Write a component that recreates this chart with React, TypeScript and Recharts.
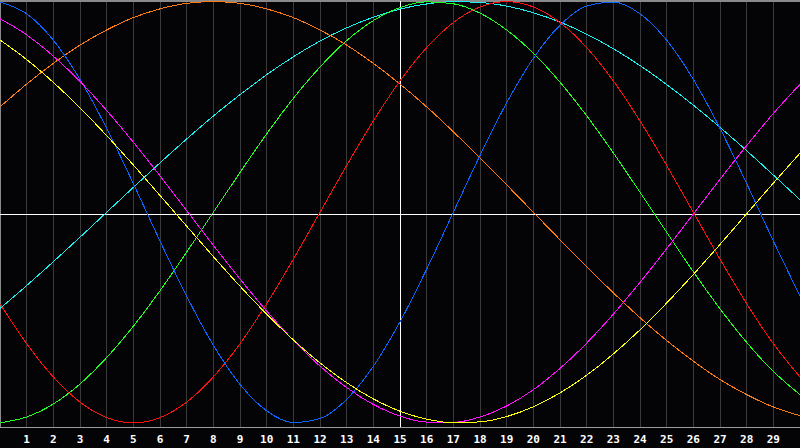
import React from 'react';
import { LineChart, Line, XAxis, YAxis, CartesianGrid, ReferenceLine } from 'recharts';

// Days shown on the chart (0..30), labels only for 1..29
const DAYS = [0, 1, 2, 3, 4, 5, 6, 7, 8, 9, 10, 11, 12, 13, 14, 15, 16, 17, 18, 19, 20, 21, 22, 23, 24, 25, 26, 27, 28, 29, 30];
const DAY_TICKS = DAYS.slice(1, 30);
const TODAY = 15;

// Values in percent
const blue = [99.5, 94.0, 81.6, 63.2, 40.2, 14.3, -12.7, -38.6, -61.6, -80.0, -92.4, -97.9, -96.0, -87.0, -71.5, -50.6, -25.9, 0.8, 27.5, 52.2, 73.1, 88.6, 97.6, 99.5, 94.0, 81.6, 63.2, 40.2, 14.3, -12.7, -38.6];
const red = [-42.1, -60.9, -76.5, -88.3, -95.6, -98.1, -95.6, -88.3, -76.5, -60.9, -42.1, -21.2, 0.8, 22.8, 43.7, 62.5, 78.1, 89.9, 97.2, 99.7, 97.2, 89.9, 78.1, 62.5, 43.7, 22.8, 0.8, -21.2, -42.1, -60.9, -76.5];
const green = [-98.0, -95.3, -89.2, -79.8, -67.4, -52.7, -36.0, -17.9, 0.8, 19.5, 37.6, 54.3, 69.0, 81.4, 90.8, 96.9, 99.6, 98.7, 94.3, 86.4, 75.5, 61.9, 46.1, 28.7, 10.2, -8.6, -27.1, -44.5, -60.3, -73.9, -84.8];
const orange = [50.3, 61.0, 70.7, 79.3, 86.4, 92.2, 96.3, 98.9, 99.7, 98.9, 96.3, 92.2, 86.4, 79.3, 70.7, 61.0, 50.3, 38.6, 26.4, 13.7, 0.8, -12.1, -24.8, -37.0, -48.7, -59.4, -69.1, -77.7, -84.8, -90.6, -94.7];
const cyan = [-44.4, -33.6, -22.4, -10.9, 0.8, 12.5, 24.0, 35.2, 46.0, 56.0, 65.4, 73.8, 81.2, 87.4, 92.4, 96.2, 98.6, 99.7, 99.3, 97.6, 94.5, 90.1, 84.4, 77.6, 69.7, 60.8, 51.1, 40.7, 29.7, 18.3, 6.7];
const magenta = [91.7, 84.1, 74.1, 62.2, 48.6, 33.7, 17.9, 1.6, -14.7, -30.5, -45.6, -59.3, -71.4, -81.5, -89.4, -94.9, -97.7, -97.8, -95.3, -90.1, -82.5, -72.5, -60.6, -47.0, -32.1, -16.3, 0.0, 16.3, 32.1, 47.2, 60.9];
const yellow = [81.7, 72.5, 61.8, 49.8, 36.8, 23.0, 8.7, -5.7, -20.0, -33.9, -47.0, -59.1, -69.9, -79.2, -86.8, -92.6, -96.3, -98.0, -97.6, -95.1, -90.5, -84.0, -75.7, -65.7, -54.4, -41.8, -28.4, -14.3, 0.1, 14.5, 28.6];

const SERIES = [
  { key: 'cyan', values: cyan, color: '#19f0f0' },
  { key: 'orange', values: orange, color: '#ff7a10' },
  { key: 'green', values: green, color: '#22ff22' },
  { key: 'red', values: red, color: '#ff1010' },
  { key: 'blue', values: blue, color: '#0a66ff' },
  { key: 'magenta', values: magenta, color: '#ff10ff' },
  { key: 'yellow', values: yellow, color: '#ffff10' },
];

const data = DAYS.map((day, i) => {
  const row: Record<string, number> = { day };
  SERIES.forEach((s) => {
    row[s.key] = s.values[i];
  });
  return row;
});

// pixel-sharp lines like the original screen capture
const CSS = `
body { margin: 0; background: #040407; }
.recharts-surface line { shape-rendering: crispEdges; }
.recharts-surface path.recharts-curve { shape-rendering: crispEdges; }
`;

export default function App() {
  return (
    <div style={{ width: 800, height: 448, background: '#040407' }}>
      <style>{CSS}</style>
      <LineChart
        width={800}
        height={448}
        data={data}
        margin={{ top: 1, right: 0, left: 0, bottom: 0 }}
      >
        <CartesianGrid horizontal={false} stroke="#3a3a3a" />
        <XAxis
          dataKey="day"
          type="number"
          domain={[0, 30]}
          ticks={DAY_TICKS}
          interval={0}
          height={21}
          tickLine={false}
          axisLine={{ stroke: '#9a9a9a' }}
          tick={{ fill: '#ffffff', fontSize: 11, fontWeight: 'bold', fontFamily: 'DejaVu Sans Mono' }}
        />
        <YAxis hide domain={[-100, 100]} />
        <ReferenceLine x={0} stroke="#8a8a8a" strokeWidth={2} />
        <ReferenceLine y={100} stroke="#8a8a8a" strokeWidth={2} />
        <ReferenceLine y={0} stroke="#ffffff" />
        <ReferenceLine x={TODAY} stroke="#ffffff" />
        {SERIES.map((s) => (
          <Line
            key={s.key}
            type="monotone"
            dataKey={s.key}
            stroke={s.color}
            strokeWidth={1}
            dot={false}
            activeDot={false}
            isAnimationActive={false}
          />
        ))}
      </LineChart>
    </div>
  );
}
